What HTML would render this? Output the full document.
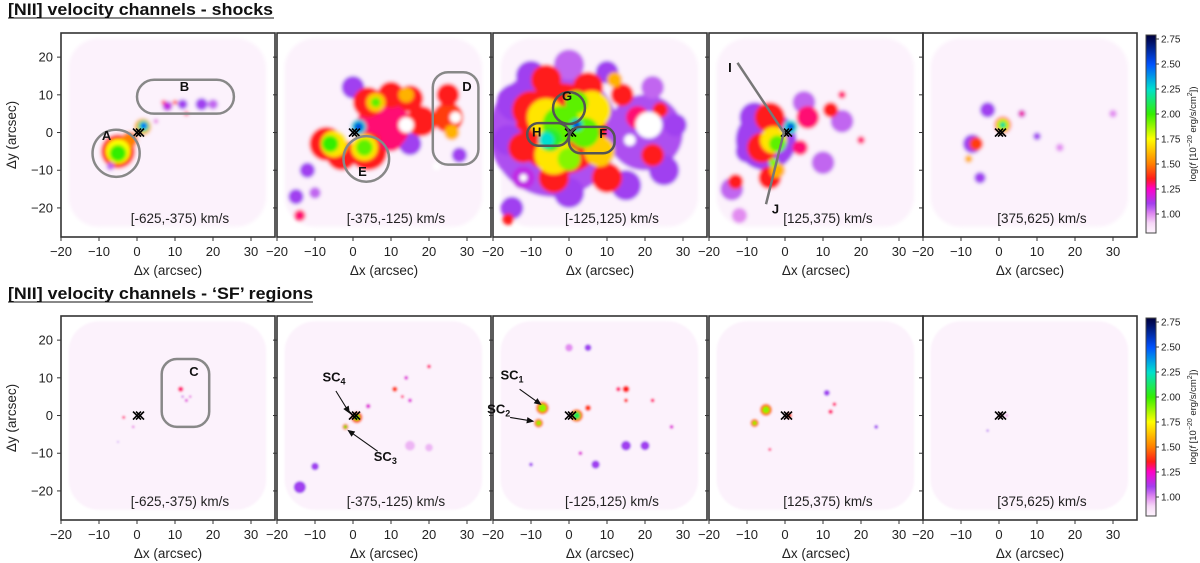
<!DOCTYPE html>
<html><head><meta charset="utf-8">
<style>
html,body{margin:0;padding:0;background:#fff;}
svg{display:block;font-family:"Liberation Sans",sans-serif;}
</style></head>
<body>
<svg id="fig" width="1200" height="563" viewBox="0 0 1200 563" xmlns="http://www.w3.org/2000/svg">
<text x="8" y="15" font-size="16.5" font-weight="bold" fill="#111" textLength="265" lengthAdjust="spacingAndGlyphs">[NII] velocity channels - shocks</text>
<line x1="8" y1="18" x2="274" y2="18" stroke="#111" stroke-width="1"/>
<text x="8" y="299" font-size="16.5" font-weight="bold" fill="#111" textLength="305" lengthAdjust="spacingAndGlyphs">[NII] velocity channels - ‘SF’ regions</text>
<line x1="8" y1="302" x2="313" y2="302" stroke="#111" stroke-width="1"/>
</svg>
<script>
// ---- data ----
const channelLabels = ["[-625,-375) km/s","[-375,-125) km/s","[-125,125) km/s","[125,375) km/s","[375,625) km/s"];
const xTicks = [-20,-10,0,10,20,30];
const yTicks = [-20,-10,0,10,20];
const cbarTicks = [1.00,1.25,1.50,1.75,2.00,2.25,2.50,2.75];
// blobs: [x arcsec, y arcsec, radius arcsec, log flux]
const shocks1 = [[-5,-5,4.5,1.38],[-2,-2,2.2,1.5],[-5,-5,3.2,1.75],[-5,-5.5,2.2,2.0],[1.5,1.5,2.2,1.6],[1.7,1.7,1.5,2.2],[1.8,1.8,0.8,2.5],[8,7,1.3,1.15],[12,7.5,1.3,1.1],[17,7.5,1.6,1.1],[20,7.5,1.3,1.05],[10,8,0.6,1.35],[13,5,0.6,1.3],[7,8,0.6,1.3],[-7,-9,1,1.05],[5,3,0.5,1.2]];
const shocks2 = [[-12,-10,2,1.1],[-15,-17,2,1.1],[-14,-22,1.5,1.3],[-10,-16,1.5,1.05],[0,12,3,1.1],[15,-3,3,1.1],[28,-6,2,1.1],[8,2,7,1.3],[-7,-3,4.5,1.35],[-3,-6,4,1.35],[4,-5,5,1.35],[4,8,4,1.35],[10,10,3.5,1.35],[15,9,3.5,1.35],[18,3,4,1.35],[25,4,4,1.4],[25,10,3,1.35],[10,-2,3,1.3],[-5,-3,3.5,1.7],[3,-4,3.5,1.7],[6,8,2.5,1.65],[14,10,2,1.6],[26,0,2,1.6],[-6,-3,2.2,2.0],[3,-4,2.2,1.95],[6,8,1.3,1.95],[14,2,2,0],[27,4,1.5,0],[22,-9,1,0],[1.5,1.5,2,2.3],[1.5,1.5,1.1,2.55]];
const shocks3 = [[-4,0,17,1.08],[20,0,10,1.08],[-2,1,12,1.35],[-14,8,5,1.1],[-16,-2,4,1.1],[-10,15,4,1.1],[0,18,4,1.05],[10,16,3,1.1],[22,12,3,1.05],[28,2,3,1.1],[25,-10,4,1.1],[15,-14,4,1.1],[0,-16,4,1.1],[-15,-20,3,1.1],[-12,-12,3,1.15],[-10,6,5,1.35],[-6,14,4,1.35],[-12,-4,4,1.35],[5,12,4,1.35],[14,10,3,1.35],[18,4,3,1.3],[24,6,2,1.35],[22,-6,3,1.35],[10,-12,4,1.35],[-4,-12,4,1.35],[-16,-23,1.5,1.35],[-6,4,5,1.7],[-4,-6,5,1.7],[6,6,5,1.7],[8,-5,4,1.65],[12,14,2,1.6],[-2,2,5,1.95],[-5,-2,3,2.05],[4,0,4,1.95],[2,8,3,1.95],[0,-7,3,1.9],[-6,-2,2,2.25],[2,2,1.5,2.3],[2,2,1,2.55],[21,2,3.5,0],[16,-2,1.5,0],[-12,-12,1,0]];
const shocks4 = [[-5,-2,8,1.1],[-8,4,4,1.1],[-10,-5,3,1.1],[-14,-15,3,1.05],[-12,-22,2,1.0],[15,3,3,1.05],[10,-8,3,1.05],[5,8,3,1.05],[-4,4,4,1.35],[-6,-4,4,1.35],[-4,-12,3,1.35],[-13,-13,2,1.35],[6,4,3,1.3],[12,6,2,1.35],[15,10,1,1.3],[20,-2,1,1.3],[4,-4,2,1.3],[-3,-2,3.5,1.7],[-2,-10,2,1.6],[-2,-3,2.2,1.95],[-3,-8,1.2,1.9],[1.5,1.5,1.8,2.25],[1.5,1.5,1,2.55]];
const shocks5 = [[-3,6,2,1.1],[-5,-12,1.5,1.1],[-7,-3,2.5,1.1],[6,5,1,1.15],[10,-1,1,1.1],[16,-4,1,1.0],[30,5,1,1.0],[-6,-3,1.8,1.4],[-8,-7,1,1.6],[6,5,0.6,1.3],[1,2,2.2,1.4],[1,2,1.7,1.75],[1,2,1.2,2.0],[1,2,0.5,2.3]];
const sf1 = [[11.5,7,0.7,1.3],[13,4,0.4,1.2],[12,5,0.3,1.15],[14,5,0.3,1.2],[-3.5,-0.5,0.4,1.3],[-1,-3,0.3,1.2],[-5,-7,0.2,1.1]];
const sf2 = [[-14,-19,1.6,1.1],[-10,-13.5,1,1.1],[15,-8,1.3,0.95],[20,-8.5,1,0.95],[1,-0.5,1.5,1.45],[1,-0.5,0.8,1.95],[-2,-3,0.8,1.5],[-2,-3,0.4,2.0],[11,7,0.7,1.4],[13,5,0.4,1.3],[15,4,0.5,1.2],[20,13,0.5,1.3],[14,10,0.5,1.2],[4,2.5,0.6,1.2]];
const sf3 = [[-7,2,1.7,1.5],[-7,2,1,1.9],[-8,-2,1.2,1.5],[-8,-2,0.6,1.9],[2,0,1.7,1.5],[2,0,1,2.1],[5,2,0.8,1.4],[15,7,0.9,1.35],[13,7,0.6,1.3],[15,4,0.5,1.35],[15,-8,1.3,1.1],[20,-8,1.2,1.1],[7,-13,1.1,1.1],[5,18,0.9,1.1],[0,18,1,1.0],[22,4,0.5,1.3],[27,-3,0.5,1.2],[-10,-13,0.5,1.1],[3,-10,0.5,1.2]];
const sf4 = [[-5,1.5,1.6,1.5],[-5,1.5,0.9,1.9],[-8,-2,1.1,1.5],[-8,-2,0.5,1.9],[1,0,0.8,1.4],[-4,-9,0.4,1.3],[11,6,0.8,1.1],[13,3,0.5,1.3],[12,1,0.6,1.3],[24,-3,0.5,1.1]];
const sf5 = [[0.5,0,0.5,1.3],[2,0,0.3,1.2],[-3,-4,0.3,1.1]];

// ---- layout ----
const NS="http://www.w3.org/2000/svg";
const svg=document.getElementById('fig');
const lefts=[61,277,493,709,923], tops=[33,316], PW=214, PH=204;
const SX=3.8, SY=3.77, Y0=26.4;
function el(t,a,p){const e=document.createElementNS(NS,t);for(const k in a)e.setAttribute(k,a[k]);(p||svg).appendChild(e);return e;}
const stops=[[0.8,[253,245,253]],[0.9,[248,222,248]],[1.0,[226,140,240]],[1.1,[160,64,240]],[1.25,[255,0,204]],[1.35,[255,26,26]],[1.5,[255,127,0]],[1.75,[255,255,0]],[2.0,[51,238,0]],[2.25,[0,224,208]],[2.5,[0,80,255]],[2.78,[0,0,60]]];
function cmap(v){if(v<=0.5)return '#ffffff';if(v<=stops[0][0])return 'rgb(253,245,253)';
 for(let i=1;i<stops.length;i++){if(v<=stops[i][0]){const a=stops[i-1],b=stops[i],t=(v-a[0])/(b[0]-a[0]);
 return 'rgb('+a[1].map((c,j)=>Math.round(c+(b[1][j]-c)*t)).join(',')+')';}} return 'rgb(0,0,60)';}

const defs=el('defs',{});
const f=el('filter',{id:'soft',x:'-20%',y:'-20%',width:'140%',height:'140%'},defs);
el('feGaussianBlur',{stdDeviation:'1.8'},f);
const f2=el('filter',{id:'soft2',x:'-20%',y:'-20%',width:'140%',height:'140%'},defs);
el('feGaussianBlur',{stdDeviation:'1.0'},f2);

const rows=[[shocks1,shocks2,shocks3,shocks4,shocks5],[sf1,sf2,sf3,sf4,sf5]];
function drawPanel(r,c){
 const L=lefts[c],T=tops[r];
 const X=x=>L+(x+20)*SX, Y=y=>T+(Y0-y)*SY;
 const g=el('g',{});
 
 
 const cp=el('clipPath',{id:'cp'+r+c},defs);el('rect',{x:L,y:T,width:PW,height:PH},cp);
 const mg=el('g',{'clip-path':'url(#cp'+r+c+')',filter:r?'url(#soft2)':'url(#soft)'},g);
 
 
 const bg=el('rect',{x:X(-18),y:Y(25),width:52*SX,height:50*SY,rx:8*SX,fill:'#fcf2fc'},mg);
 
 
 rows[r][c].forEach(b=>{
  const e=el('circle',{cx:X(b[0]),cy:Y(b[1]),r:b[2]*SX,fill:cmap(b[3])},mg);
  
  
 });
 const cx=X(0),cy=Y(0);
 const cr=el('path',{d:`M${cx-4} ${cy-4}L${cx+4} ${cy+4}M${cx-4} ${cy+4}L${cx+4} ${cy-4}M${cx-1} ${cy-4}L${cx+7} ${cy+4}M${cx-1} ${cy+4}L${cx+7} ${cy-4}`,stroke:'#000','stroke-width':1.6},g);
 
 
 const fr=el('rect',{x:L,y:T,width:PW,height:PH,fill:'none',stroke:'#333','stroke-width':1.6},g);
 
 
 xTicks.forEach(t=>{
  el('line',{x1:X(t),x2:X(t),y1:T+PH,y2:T+PH+4,stroke:'#333','stroke-width':1},g);
  const tx=el('text',{x:X(t),y:T+PH+19,'font-size':13,'text-anchor':'middle',fill:'#222'},g);
  tx.textContent=(t<0?'\u2212'+(-t):t);
  
  
 });
 yTicks.forEach(t=>{
  el('line',{x1:L-4,x2:L,y1:Y(t),y2:Y(t),stroke:'#333','stroke-width':1},g);
  if(c===0){const ty=el('text',{x:L-8,y:Y(t)+4.5,'font-size':13,'text-anchor':'end',fill:'#222'},g);
   ty.textContent=(t<0?'\u2212'+(-t):t);
   
   }
 });
 const xl=el('text',{x:L+PW/2,y:T+PH+38,'font-size':13.5,'text-anchor':'middle',fill:'#222'},g);
 xl.textContent='\u0394x (arcsec)';
 
 
 if(c===0){const yl=el('text',{x:0,y:0,'font-size':13.5,'text-anchor':'middle',fill:'#222',transform:`translate(16,${T+PH/2}) rotate(-90)`},g);
  yl.textContent='\u0394y (arcsec)';
  
  }
 const vl=el('text',{x:X(11.3),y:T+190,'font-size':13.5,'text-anchor':'middle',fill:'#222'},g);
 vl.textContent=channelLabels[c];
 
 
 return {g,X,Y};
}
const P=[];
for(let r=0;r<2;r++){P.push([]);for(let c=0;c<5;c++)P[r].push(drawPanel(r,c));}

function rrect(p,x0,y0,x1,y1,rx,col){const e=el('rect',{x:p.X(x0),y:p.Y(y1),width:(x1-x0)*SX,height:(y1-y0)*SY,rx:rx*SX,fill:'none',stroke:col||'#888','stroke-width':2.5},p.g);
 }
function circ(p,x,y,r,col){const e=el('circle',{cx:p.X(x),cy:p.Y(y),r:r*SX,fill:'none',stroke:col||'#888','stroke-width':2.5},p.g);
 }
function lab(p,x,y,s,sub){const t=el('text',{x:p.X(x),y:p.Y(y),'font-size':13,'font-weight':'bold','text-anchor':'middle',fill:'#111'},p.g);
 t.textContent=s;if(sub){const ts=el('tspan',{'font-size':9,dy:3},t);ts.textContent=sub;}
 }
function arrow(p,x0,y0,x1,y1){const a=p.X(x0),b=p.Y(y0),c=p.X(x1),d=p.Y(y1);const ang=Math.atan2(d-b,c-a);
 const h=6;const e=el('path',{d:`M${a} ${b}L${c} ${d}M${c} ${d}L${c-h*Math.cos(ang-0.4)} ${d-h*Math.sin(ang-0.4)}L${c-h*Math.cos(ang+0.4)} ${d-h*Math.sin(ang+0.4)}Z`,stroke:'#111',fill:'#111','stroke-width':1.1},p.g);
 }
let p=P[0][0];circ(p,-5.5,-5.5,6.2);lab(p,-8,-2,'A');rrect(p,0,5,25.5,14,4.5);lab(p,12.5,11,'B');
p=P[0][1];circ(p,3.5,-7,6);lab(p,2.5,-11.5,'E');rrect(p,21,-8.5,33,16,4);lab(p,30,11,'D');
p=P[0][2];circ(p,0,6.5,4.2,'#555');lab(p,-0.5,8.5,'G');rrect(p,-11,-3.5,0,2.5,3,'#555');lab(p,-8.5,-1,'H');rrect(p,0,-5.5,12,1.5,3,'#555');lab(p,9,-1.5,'F');
p=P[0][3];{const e=el('path',{d:`M${p.X(-12.5)} ${p.Y(18.5)}L${p.X(-0.3)} ${p.Y(0)}L${p.X(-5)} ${p.Y(-19)}`,stroke:'#777','stroke-width':2.5,fill:'none'},p.g);
 }
lab(p,-14.5,16,'I');lab(p,-2.5,-21.5,'J');
p=P[1][0];rrect(p,6.5,-3,19,15,4);lab(p,15,10.5,'C');
p=P[1][1];lab(p,-5,9,'SC','4');arrow(p,-4.5,6.5,-1,0.8);lab(p,8.5,-12,'SC','3');arrow(p,6.5,-9.5,-1.2,-4);
p=P[1][2];lab(p,-15,9.5,'SC','1');arrow(p,-13,7,-7.5,3);lab(p,-18.5,0.5,'SC','2');arrow(p,-15.5,-0.5,-9.5,-1.5);

for(let r=0;r<2;r++){
 const T=tops[r], cx=1146, top=T+2, bot=T+200;
 const g=el('g',{});
 
 
 const lg=el('linearGradient',{id:'cg'+r,x1:0,y1:1,x2:0,y2:0},defs);
 const vmin=0.81,vmax=2.79;
 for(let i=0;i<=40;i++){const v=vmin+(vmax-vmin)*i/40;el('stop',{offset:(i/40),'stop-color':cmap(v)},lg);}
 el('rect',{x:cx,y:top,width:10,height:bot-top,fill:'url(#cg'+r+')',stroke:'#444','stroke-width':1},g);
 const vy=v=>bot-(v-vmin)/(vmax-vmin)*(bot-top);
 cbarTicks.forEach(v=>{el('line',{x1:cx+10,x2:cx+13,y1:vy(v),y2:vy(v),stroke:'#444'},g);
  const t=el('text',{x:cx+15,y:vy(v)+3.5,'font-size':10,fill:'#222'},g);t.textContent=v.toFixed(2);
  });
 const t=el('text',{x:0,y:0,'font-size':9.5,'text-anchor':'middle',fill:'#222',transform:`translate(1196,${(top+bot)/2}) rotate(-90)`},g);
 t.innerHTML='log(<tspan font-style="italic">f</tspan> [10<tspan font-size="7" dy="-4">\u221220</tspan><tspan dy="4"> erg/s/cm</tspan><tspan font-size="7" dy="-4">2</tspan><tspan dy="4">])</tspan>';
 
}
</script>
</body></html>
